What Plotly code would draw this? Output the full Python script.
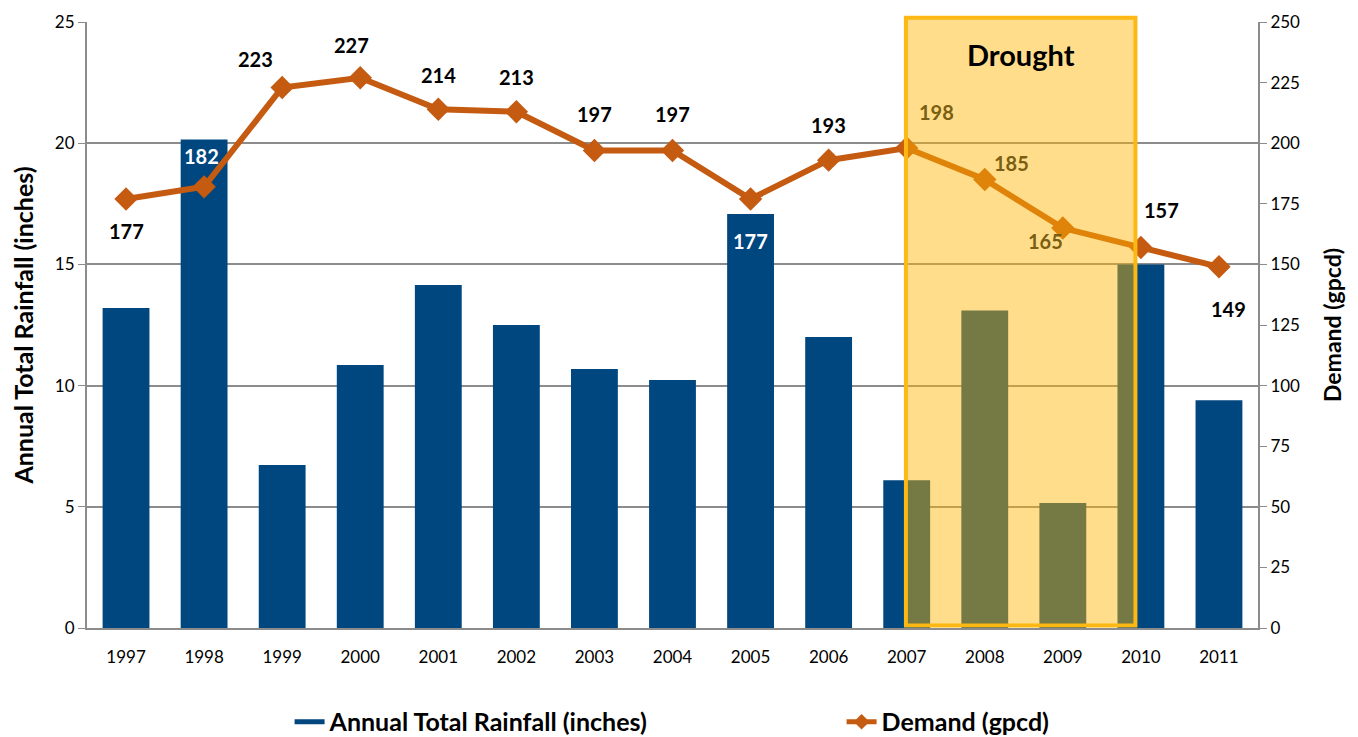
import plotly.graph_objects as go

years = ["1997", "1998", "1999", "2000", "2001", "2002", "2003", "2004",
         "2005", "2006", "2007", "2008", "2009", "2010", "2011"]
rainfall = [13.2, 20.15, 6.72, 10.85, 14.15, 12.5, 10.68, 10.23,
            17.08, 12.0, 6.1, 13.1, 5.16, 15.0, 9.4]
demand = [177, 182, 223, 227, 214, 213, 197, 197, 177, 193, 198, 185, 165, 157, 149]
# label offsets (px) relative to each point
label_dx = [0, -3, -27, -9, 0, 0, 0, 0, 0, 0, 30, 27, -17, 21, 10]
label_dy = [32, -31, -28, -33, -34, -35, -36, -36, 42, -35, -36, -17, 13, -37, 42]
label_color = ["black", "white", "black", "black", "black", "black", "black", "black",
               "white", "black", "#7A5E12", "#7A5E12", "#7A5E12", "black", "black"]
drought_start, drought_end = 9.99, 12.93   # category index span of the drought box

FONT = "Lato, 'Open Sans', sans-serif"
BAR = "#00467F"
LINE = "#C55A11"

fig = go.Figure()
fig.add_trace(go.Bar(x=years, y=rainfall, name="<b>Annual Total Rainfall (inches)</b>",
                     marker=dict(color=BAR, line=dict(width=0)), yaxis="y",
                     showlegend=False))
# legend-only entry to mimic wide rectangle swatch
fig.add_trace(go.Scatter(x=[None], y=[None], mode="lines",
                         name="<b>Annual Total Rainfall (inches)</b>",
                         line=dict(color=BAR, width=18), yaxis="y"))
fig.add_trace(go.Scatter(x=years, y=demand, name="<b>Demand (gpcd)</b>", yaxis="y2",
                         mode="lines+markers",
                         line=dict(color=LINE, width=6),
                         marker=dict(symbol="diamond", size=18, color=LINE)))

for i, (d, dx, dy, c) in enumerate(zip(demand, label_dx, label_dy, label_color)):
    fig.add_annotation(x=i, y=d, xref="x", yref="y2", text=f"<b>{d}</b>",
                       showarrow=False, xshift=dx, yshift=-dy,
                       font=dict(family=FONT, size=20, color=c))

# Drought box (paper coords so it can poke slightly above the plot top)
n = len(years)
fig.add_shape(type="rect", xref="paper", yref="paper",
              x0=(drought_start + 0.5) / n, x1=(drought_end + 0.5) / n,
              y0=0.004, y1=1.007,
              fillcolor="rgba(255,180,0,0.46)",
              line=dict(color="#FDB813", width=4), layer="above")
fig.add_annotation(x=11.47, y=23.65, xref="x", yref="y", text="<b>Drought</b>",
                   showarrow=False, font=dict(family=FONT, size=29, color="black"))

fig.update_layout(
    width=1358, height=737,
    margin=dict(l=79, r=108, t=14, b=117, autoexpand=False),
    plot_bgcolor="white", paper_bgcolor="white",
    font=dict(family=FONT, size=17, color="black"),
    bargap=0.4,
    showlegend=True,
    legend=dict(orientation="h", x=0.173, xanchor="left", y=-0.155, yanchor="middle",
                font=dict(family=FONT, size=25, color="black"),
                entrywidth=507, itemsizing="constant"),
    xaxis=dict(type="category", categoryorder="array", categoryarray=years,
               range=[-0.5, 14.5], showline=True, linecolor="#8c8c8c", linewidth=2,
               ticks="", ticklabelstandoff=13, tickfont=dict(size=17),
               showgrid=False, automargin=False),
    yaxis=dict(range=[0, 25], dtick=5, showline=True, linecolor="#8c8c8c", linewidth=2,
               ticks="outside", ticklen=7, tickcolor="#8c8c8c",
               showgrid=True, gridcolor="#8c8c8c", gridwidth=1.5,
               tickfont=dict(size=17), zeroline=False, automargin=False,
               title=dict(text="<b>Annual Total Rainfall (inches)</b>",
                          font=dict(size=25), standoff=18)),
    yaxis2=dict(range=[0, 250], dtick=25, overlaying="y", side="right",
                showline=True, linecolor="#8c8c8c", linewidth=2,
                ticks="outside", ticklen=7, tickcolor="#8c8c8c",
                showgrid=False, zeroline=False, tickfont=dict(size=17), automargin=False,
                title=dict(text="<b>Demand (gpcd)</b>", font=dict(size=23), standoff=26)),
)

fig.write_html("out.html")
